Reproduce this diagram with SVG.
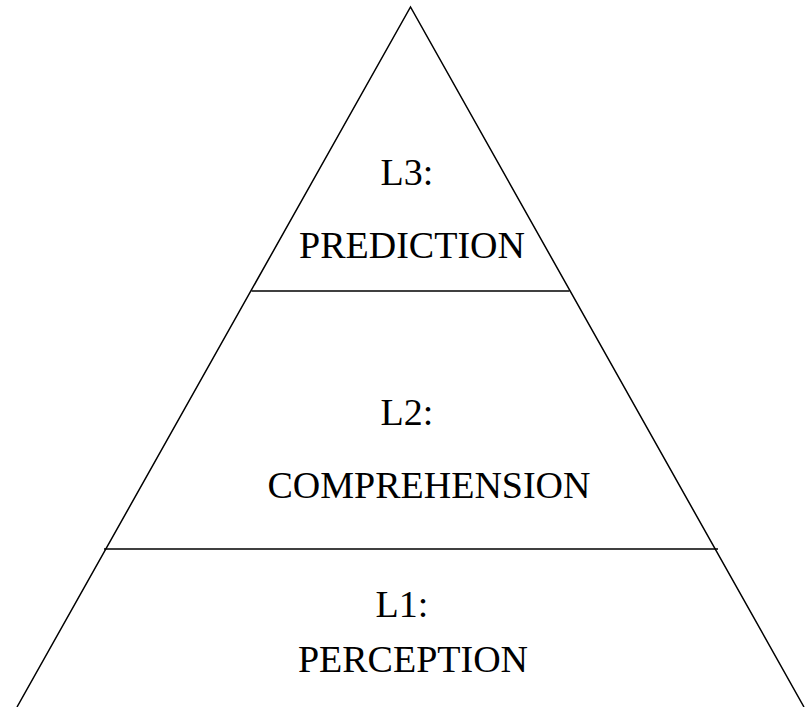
<svg xmlns="http://www.w3.org/2000/svg" width="806" height="707" viewBox="0 0 806 707">
<style>
.edge{stroke:#000;stroke-width:1.5;fill:none}
.lbl{font-family:"Liberation Serif","Times New Roman",serif;font-size:38px;fill:#000;text-anchor:middle}
</style>
<rect width="806" height="707" fill="#fff"/>
<g id="connectors">
<polyline class="edge" points="17,707 410.5,7 804,707"/>
<line class="edge" x1="251.5" y1="291" x2="569.5" y2="291"/>
<line class="edge" x1="104" y1="549" x2="718" y2="549"/>
</g>
<g id="L3">
<text class="lbl" x="407" y="185">L3:</text>
<text class="lbl" x="412" y="258">PREDICTION</text>
</g>
<g id="L2">
<text class="lbl" x="407" y="425">L2:</text>
<text class="lbl" x="429" y="498">COMPREHENSION</text>
</g>
<g id="L1">
<text class="lbl" x="402" y="617">L1:</text>
<text class="lbl" x="413" y="672">PERCEPTION</text>
</g>
</svg>
